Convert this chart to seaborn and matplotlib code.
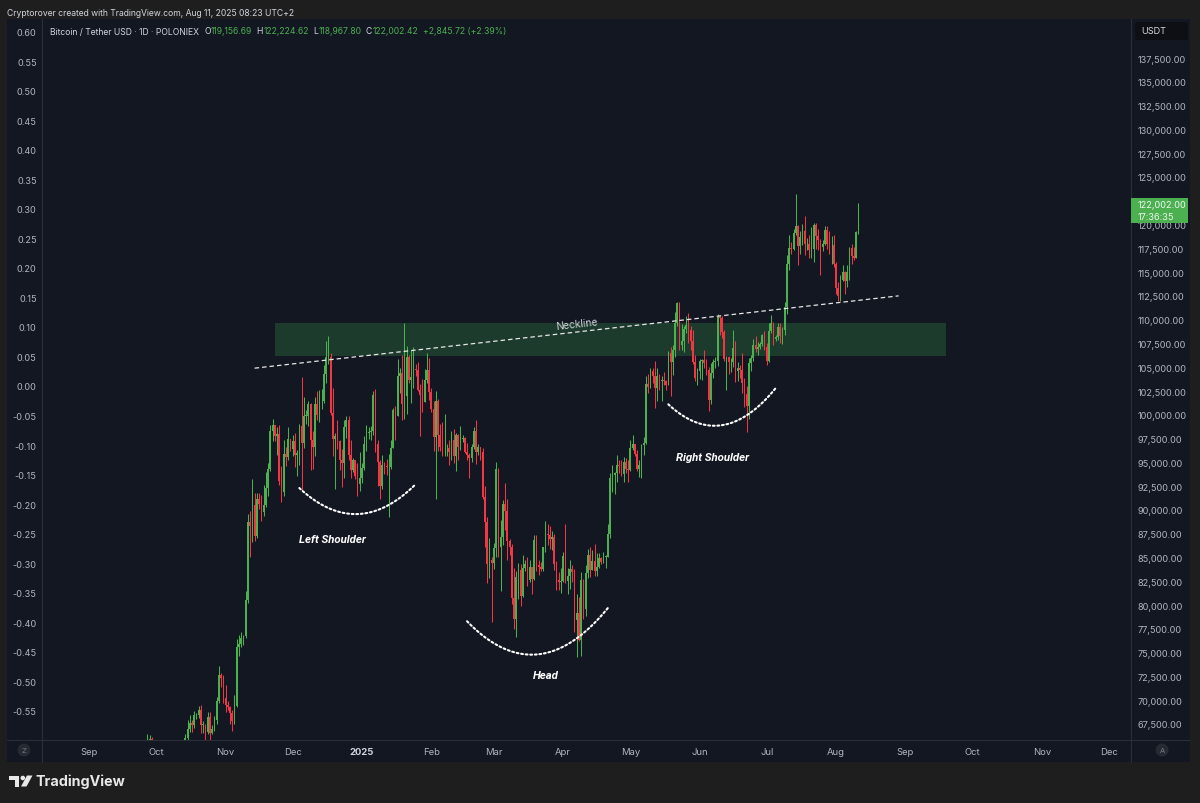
import numpy as np
import pandas as pd
import matplotlib
matplotlib.use("Agg")
import matplotlib.pyplot as plt
import matplotlib.dates as mdates
from matplotlib.patches import Rectangle, Polygon, FancyBboxPatch, Ellipse
from matplotlib.lines import Line2D
from matplotlib.ticker import FuncFormatter
import seaborn as sns

# ---- data: BTC/USDT daily candles (thousands of USDT) ----
start_date = "2024-09-24"
first_open = 63.3

close_k = [
    # Sep 24-30
    64.3, 63.1, 65.2, 65.8, 65.9, 65.6, 63.3,
    # Oct
    60.8, 60.6, 60.7, 62.1, 62.1, 62.8, 62.2, 62.1, 60.6, 60.3, 62.4, 63.2, 62.9, 66.0, 67.0, 67.6,
    67.4, 68.4, 68.4, 69.0, 67.4, 67.4, 66.7, 68.2, 66.6, 67.0, 67.9, 69.9, 72.7, 72.3, 70.2,
    # Nov
    69.5, 69.3, 68.7, 67.8, 69.4, 75.6, 75.9, 76.5, 76.7, 80.5, 88.7, 88.3, 90.5, 87.3, 91.1,
    90.6, 89.8, 90.5, 92.3, 94.3, 98.3, 98.9, 97.8, 98.0, 93.0, 91.9, 95.9, 95.6, 97.5, 96.4,
    # Dec
    97.2, 95.8, 96.0, 98.8, 97.0, 99.9, 99.9, 101.1, 97.4, 96.6, 101.1, 100.0, 101.4, 101.4, 104.3,
    106.1, 106.1, 100.2, 97.5, 97.8, 97.2, 95.2, 94.9, 98.7, 99.4, 95.8, 94.2, 95.2, 93.6, 92.7, 93.4,
    # Jan
    94.4, 96.9, 98.1, 98.2, 98.3, 102.1, 96.9, 95.0, 92.5, 94.7, 94.6, 94.5, 94.5, 96.5, 100.5,
    99.9, 104.1, 104.4, 101.1, 102.0, 106.1, 103.7, 104.0, 104.8, 104.7, 102.6, 102.1, 101.3, 103.7, 104.7, 102.4,
    # Feb
    100.6, 97.7, 101.4, 97.9, 96.6, 96.5, 96.5, 96.5, 96.1, 97.4, 95.7, 97.9, 96.6, 97.5,
    97.6, 96.1, 95.8, 95.5, 96.6, 98.3, 96.1, 96.6, 96.1, 91.4, 88.7, 84.3, 84.7, 84.4,
    # Mar
    86.0, 94.3, 86.1, 87.2, 90.6, 89.9, 86.7, 86.1, 80.7, 78.5, 82.9, 83.7, 81.0, 83.9, 84.3,
    82.6, 84.0, 82.7, 86.8, 84.2, 84.0, 83.8, 86.1, 87.5, 87.4, 86.9, 87.2, 84.3, 82.6, 82.4, 82.5,
    # Apr
    85.2, 82.5, 83.1, 83.8, 83.5, 78.4, 79.2, 76.3, 82.6, 79.6, 83.4, 85.3, 83.7, 84.6, 83.6,
    84.0, 84.9, 84.5, 85.1, 85.1, 87.5, 93.4, 93.7, 93.9, 94.7, 94.6, 93.8, 95.0, 94.3, 94.2,
    # May
    96.5, 96.9, 95.9, 94.3, 94.7, 96.8, 97.0, 103.2, 102.9, 104.6, 104.1, 102.8, 104.1, 103.5, 103.7,
    103.5, 103.1, 106.5, 105.6, 106.8, 109.7, 111.7, 107.3, 107.8, 109.0, 109.4, 108.9, 107.8, 105.6, 103.9, 104.6,
    # Jun
    105.7, 105.8, 105.4, 104.7, 101.6, 104.4, 105.6, 105.7, 110.3, 110.2, 108.7, 105.9, 106.1, 105.5, 105.6,
    107.0, 104.6, 104.9, 104.7, 103.3, 102.2, 100.9, 105.4, 106.0, 107.3, 106.9, 107.1, 107.4, 108.4, 107.1,
    # Jul
    105.7, 108.8, 109.6, 108.0, 108.2, 109.2, 108.3, 108.9, 111.3, 115.9, 117.5, 117.4, 119.1, 119.8, 117.7,
    118.7, 119.3, 117.9, 117.9, 117.3, 117.4, 120.0, 118.8, 118.4, 117.6, 117.9, 119.4, 118.0, 117.8, 117.8, 115.8,
    # Aug 1-11
    113.3, 112.5, 114.2, 115.0, 114.1, 115.0, 117.5, 116.7, 116.5, 119.2, 122.002,
]

high_k = [
    64.8, 64.8, 65.8, 66.5, 66.3, 66.1, 65.6,
    64.1, 62.4, 61.5, 62.5, 62.4, 63.0, 64.5, 63.2, 62.5, 61.3, 63.4, 63.5, 63.3, 66.5, 67.9, 68.4,
    67.9, 68.9, 68.7, 69.4, 69.5, 67.8, 67.5, 68.8, 68.8, 67.4, 68.3, 70.3, 73.6, 72.9, 72.7,
    71.6, 69.9, 69.4, 69.0, 70.5, 76.4, 76.9, 77.2, 76.9, 81.5, 89.6, 89.9, 93.3, 91.8, 91.8,
    91.8, 91.6, 92.6, 94.0, 94.9, 98.9, 99.6, 98.8, 98.7, 98.9, 94.6, 97.3, 96.6, 98.7, 97.5,
    97.9, 98.1, 96.3, 99.0, 104.0, 101.9, 100.5, 101.4, 101.2, 98.3, 101.9, 102.5, 102.6, 102.7, 105.2,
    107.8, 108.3, 106.5, 102.8, 98.1, 99.5, 97.3, 96.4, 99.4, 99.9, 99.9, 97.3, 95.5, 95.2, 94.9, 96.1,
    94.9, 97.8, 98.9, 98.7, 98.8, 102.5, 102.7, 97.3, 95.3, 95.8, 95.0, 95.4, 95.9, 97.4, 100.7,
    100.9, 105.9, 104.9, 106.3, 109.6, 107.2, 106.3, 106.8, 107.1, 105.3, 105.5, 103.2, 103.8, 104.8, 106.5, 106.0,
    102.8, 101.5, 102.5, 101.7, 99.0, 99.2, 100.1, 96.9, 97.3, 98.3, 98.5, 98.1, 98.0, 98.8,
    97.9, 97.7, 97.0, 96.0, 96.9, 98.7, 99.5, 96.9, 96.6, 96.5, 92.5, 89.3, 87.0, 85.1,
    86.5, 95.0, 94.4, 88.9, 91.0, 92.8, 91.2, 86.9, 86.4, 83.9, 83.6, 84.4, 84.3, 85.3, 84.7,
    85.0, 84.7, 83.9, 87.4, 87.4, 84.7, 84.5, 86.1, 88.8, 88.5, 88.3, 87.8, 87.5, 84.6, 83.5, 83.9,
    85.6, 88.5, 83.9, 84.7, 84.2, 83.8, 81.2, 80.8, 83.5, 82.7, 84.2, 85.9, 86.1, 85.8, 86.4,
    85.5, 85.5, 85.1, 85.6, 85.3, 88.5, 93.9, 94.7, 94.0, 95.8, 95.3, 95.2, 95.6, 95.5, 95.2,
    97.4, 97.9, 96.9, 96.3, 95.2, 96.9, 97.7, 104.1, 104.3, 104.9, 104.9, 105.7, 104.9, 104.3, 104.1,
    104.5, 103.7, 106.7, 107.1, 107.3, 110.8, 111.9, 111.9, 109.5, 109.3, 110.4, 110.7, 109.3, 108.9, 106.3, 104.9,
    105.9, 105.9, 106.8, 105.9, 105.0, 105.4, 105.9, 106.1, 110.6, 110.4, 110.4, 108.9, 106.2, 106.2, 106.0,
    108.9, 107.8, 105.6, 105.2, 106.5, 103.9, 103.0, 106.0, 106.3, 108.0, 108.3, 107.7, 107.6, 108.5, 108.8,
    107.5, 109.7, 110.5, 109.8, 108.4, 109.7, 109.7, 109.2, 111.9, 116.8, 118.9, 118.2, 119.5, 123.2, 119.9,
    119.3, 120.1, 120.9, 118.6, 118.9, 119.7, 120.2, 120.2, 119.5, 118.5, 118.4, 119.8, 119.8, 119.3, 118.8, 118.9,
    116.1, 114.0, 114.7, 115.7, 115.1, 115.7, 117.6, 117.9, 117.6, 119.3, 122.225,
]

low_k = [
    62.7, 62.9, 62.7, 64.8, 65.4, 65.4, 62.9,
    60.2, 59.9, 59.8, 60.5, 61.7, 61.9, 62.1, 61.8, 60.3, 58.9, 60.1, 62.4, 62.0, 62.4, 64.8, 66.7,
    66.7, 67.1, 68.0, 68.1, 66.6, 66.6, 65.3, 66.5, 65.5, 66.5, 66.8, 67.5, 69.7, 71.4, 69.7,
    68.8, 69.0, 67.5, 66.8, 67.5, 69.3, 74.6, 75.6, 75.8, 76.5, 80.2, 85.1, 86.6, 86.7, 87.1,
    90.1, 88.8, 89.4, 90.3, 91.5, 94.1, 97.2, 97.2, 95.8, 92.6, 90.8, 91.5, 94.6, 95.3, 96.2,
    95.7, 94.5, 93.6, 94.7, 92.1, 96.5, 99.0, 98.8, 94.2, 94.3, 95.7, 99.4, 99.2, 100.6, 101.2,
    103.3, 105.3, 100.0, 95.7, 92.2, 96.4, 94.2, 92.4, 93.4, 97.6, 95.2, 93.4, 94.0, 93.3, 91.5, 92.0,
    92.8, 94.2, 96.2, 97.5, 97.3, 97.9, 96.1, 92.5, 91.2, 92.2, 93.8, 93.7, 89.3, 94.3, 96.5,
    97.3, 99.9, 102.3, 99.5, 99.6, 100.1, 103.3, 101.2, 102.8, 104.1, 102.5, 97.8, 100.3, 101.3, 103.3, 101.6,
    100.3, 96.2, 91.2, 96.2, 96.2, 95.7, 95.7, 95.7, 94.7, 95.3, 94.9, 94.1, 95.2, 96.3,
    97.1, 96.0, 95.2, 93.4, 95.0, 96.4, 94.8, 95.8, 95.2, 91.2, 86.1, 82.3, 82.8, 78.2,
    83.8, 85.0, 85.1, 81.5, 86.3, 87.9, 84.7, 85.3, 80.1, 77.5, 76.6, 80.6, 79.9, 80.8, 83.6,
    82.0, 82.4, 81.2, 82.6, 83.6, 83.2, 83.6, 83.6, 85.6, 86.3, 85.9, 85.8, 83.7, 81.6, 81.6, 81.3,
    82.4, 82.3, 81.2, 81.7, 82.4, 77.2, 74.5, 76.2, 74.6, 78.5, 78.9, 82.8, 82.9, 83.7, 83.1,
    83.1, 83.9, 84.3, 84.4, 83.9, 85.1, 87.1, 91.9, 91.7, 92.9, 93.9, 93.6, 92.9, 93.9, 92.9,
    94.1, 96.3, 95.7, 94.1, 93.5, 93.4, 95.8, 96.9, 102.3, 102.8, 103.3, 100.7, 101.4, 102.6, 101.4,
    103.1, 102.6, 103.1, 102.0, 104.2, 106.1, 109.3, 106.8, 106.8, 106.6, 108.6, 107.5, 106.8, 105.3, 103.6, 103.1,
    103.8, 103.7, 104.9, 104.2, 100.4, 101.1, 103.9, 104.9, 105.1, 108.4, 108.1, 105.7, 102.6, 104.3, 104.5,
    105.0, 103.4, 103.6, 103.9, 102.3, 100.8, 98.2, 99.6, 104.6, 105.7, 106.6, 106.3, 106.9, 107.2, 106.8,
    105.2, 105.6, 108.6, 107.3, 107.8, 107.9, 107.5, 107.4, 108.4, 110.6, 115.2, 116.9, 117.3, 118.9, 115.7,
    116.9, 117.8, 116.8, 117.3, 116.5, 116.5, 116.1, 117.4, 117.3, 114.7, 117.2, 117.8, 117.4, 116.9, 115.8, 115.5,
    112.7, 112.0, 112.0, 114.1, 112.7, 113.4, 114.2, 115.9, 116.3, 116.5, 118.968,
]

# pattern annotations (date, price)
zone_dates = ["2024-11-23", "2025-09-19"]
zone_prices = [106_200, 109_700]
neck_dates = ["2024-11-14", "2025-08-29"]
neck_prices = [104_900, 112_500]
arcs = {
    "Left Shoulder": (["2024-12-04", "2025-01-01", "2025-01-25"], [92_300, 89_600, 92_700]),
    "Head": (["2025-02-17", "2025-03-23", "2025-04-21"], [78_300, 74_900, 79_700]),
    "Right Shoulder": (["2025-05-18", "2025-06-08", "2025-07-05"], [101_100, 98_850, 102_800]),
}
label_dates = ["2024-12-19", "2025-03-24", "2025-06-07"]
label_prices = [86_950, 72_600, 95_600]
label_texts = ["Left Shoulder", "Head", "Right Shoulder"]

month_ticks = ["2024-09-01", "2024-10-01", "2024-11-01", "2024-12-01", "2025-01-01", "2025-02-01",
               "2025-03-01", "2025-04-01", "2025-05-01", "2025-06-01", "2025-07-01", "2025-08-01",
               "2025-09-01", "2025-10-01", "2025-11-01", "2025-12-01"]
month_labels = ["Sep", "Oct", "Nov", "Dec", "2025", "Feb", "Mar", "Apr", "May", "Jun", "Jul", "Aug",
                "Sep", "Oct", "Nov", "Dec"]
price_ticks = list(range(67_500, 137_501, 2_500))
z_ticks = [round(v, 2) for v in np.arange(-0.55, 0.601, 0.05)]

# ---- style ----
W, H = 1200, 804
OUTER = "#1e1e1e"
PANEL = "#131722"
SEP = "#2a2e39"
TXT = "#b2b5be"
HEAD_TXT = "#d1d4dc"
GREEN = "#4caf50"
RED = "#f23645"

sns.set_theme(style="dark", rc={"axes.facecolor": PANEL, "figure.facecolor": OUTER,
                                "axes.grid": False, "axes.edgecolor": SEP})
plt.rcParams["font.family"] = ["Inter", "DejaVu Sans"]


def fx(x):
    return x / W


def fy(y):
    return 1 - y / H


fig = plt.figure(figsize=(12, 8.04), dpi=100)
fig.add_artist(Rectangle((fx(7), fy(763)), fx(1190) - fx(7), fy(20) - fy(763),
                         transform=fig.transFigure, facecolor=PANEL, edgecolor="none", zorder=-2))

ax = fig.add_axes([fx(42), fy(741), fx(1131) - fx(42), fy(20) - fy(741)])
ax.set_facecolor(PANEL)
ax2 = ax.twinx()

# ---- candles ----
dates = pd.date_range(start_date, periods=len(close_k), freq="D")
xs = mdates.date2num(dates)
c = np.array(close_k) * 1000
o = np.r_[first_open, close_k[:-1]] * 1000
o[-1] = 119_156.69
hi = np.maximum(np.array(high_k) * 1000, np.maximum(o, c))
lo = np.minimum(np.array(low_k) * 1000, np.minimum(o, c))
cols = np.where(c >= o, GREEN, RED)

ax.vlines(xs, lo, hi, colors=cols, linewidth=0.75, zorder=3)
ax.bar(xs, np.maximum(np.abs(c - o), 60), bottom=np.minimum(o, c), width=0.72,
       color=cols, linewidth=0, zorder=4)

# ---- pattern drawing ----
zd = mdates.date2num(pd.to_datetime(zone_dates))
ax.add_patch(Rectangle((zd[0], zone_prices[0]), zd[1] - zd[0], zone_prices[1] - zone_prices[0],
                       facecolor="#1d3b2c", edgecolor="none", zorder=1))

nd = mdates.date2num(pd.to_datetime(neck_dates))
ax.plot(nd, neck_prices, color="#e6e6e6", linewidth=0.9, linestyle=(0, (3.6, 2.4)), zorder=5)
nx = mdates.date2num(pd.Timestamp("2025-04-07"))
ax.text(nx, 109_250, "Neckline", color=HEAD_TXT, fontsize=7.4, ha="center", va="baseline",
        rotation=6.4, rotation_mode="anchor", zorder=6)

for name, (ad, ap) in arcs.items():
    ax_d = mdates.date2num(pd.to_datetime(ad))
    coef = np.polyfit(ax_d - ax_d[1], ap, 2)
    t = np.linspace(ax_d[0], ax_d[2], 120)
    ax.plot(t, np.polyval(coef, t - ax_d[1]), color="white", linewidth=1.5,
            linestyle=(0, (0.9, 1.3)), dash_capstyle="round", zorder=5)

for d, p, s in zip(label_dates, label_prices, label_texts):
    ax.text(mdates.date2num(pd.Timestamp(d)), p, s, color="white", fontsize=8.2,
            fontweight="bold", fontstyle="italic", family=["Roboto", "DejaVu Sans"],
            ha="center", va="center", zorder=6)

# ---- axes ----
ax.set_xlim(mdates.date2num(pd.Timestamp("2024-08-10 22:00")),
            mdates.date2num(pd.Timestamp("2025-12-10 22:00")))
ax.set_ylim(65_818, 141_600)
ax2.set_ylim(-0.5996, 0.6216)

ax.yaxis.tick_right()
ax.set_yticks(price_ticks)
ax.yaxis.set_major_formatter(FuncFormatter(lambda v, p: f"{v:,.2f}"))
ax.tick_params(axis="y", length=0, pad=5, labelsize=6.6, labelcolor=TXT)

ax2.yaxis.tick_left()
ax2.set_yticks(z_ticks)
ax2.yaxis.set_major_formatter(FuncFormatter(lambda v, p: f"{v:.2f}"))
ax2.tick_params(axis="y", length=0, pad=3.8, labelsize=6.6, labelcolor=TXT)

ax.set_xticks(mdates.date2num(pd.to_datetime(month_ticks)))
ax.set_xticklabels(month_labels)
ax.tick_params(axis="x", length=0, pad=5, labelsize=6.8, labelcolor=TXT)
for lab in ax.get_xticklabels():
    if lab.get_text() == "2025":
        lab.set_fontweight("bold")
        lab.set_color(HEAD_TXT)

for a in (ax, ax2):
    for s in a.spines.values():
        s.set_visible(False)
    a.set_xlabel("")
    a.set_ylabel("")

# separators
for (x0, y0, x1, y1) in [(7, 741, 1190, 741), (42, 20, 42, 763), (1131, 20, 1131, 763)]:
    fig.add_artist(Line2D([fx(x0), fx(x1)], [fy(y0), fy(y1)], transform=fig.transFigure,
                          color=SEP, linewidth=0.8, zorder=2))

# ---- header texts ----
fig.text(fx(7), fy(13), "Cryptorover created with TradingView.com, Aug 11, 2025 08:23 UTC+2",
         color=HEAD_TXT, fontsize=6.2, ha="left", va="center")

renderer = fig.canvas.get_renderer()
parts = [("Bitcoin / Tether USD \u00b7 1D \u00b7 POLONIEX", HEAD_TXT, 5),
         ("O", HEAD_TXT, 0.3), ("119,156.69", GREEN, 4.5),
         ("H", HEAD_TXT, 0.3), ("122,224.62", GREEN, 4.5),
         ("L", HEAD_TXT, 0.3), ("118,967.80", GREEN, 4.5),
         ("C", HEAD_TXT, 0.3), ("122,002.42", GREEN, 4.5),
         ("+2,845.72 (+2.39%)", GREEN, 0)]
xpos = 50
for s, col, gap in parts:
    t = fig.text(fx(xpos), fy(32), s, color=col, fontsize=6.2, ha="left", va="center")
    xpos += t.get_window_extent(renderer=renderer).width + gap

# USDT box
fig.add_artist(FancyBboxPatch((fx(1135), fy(41)), fx(1188) - fx(1135), fy(23) - fy(41),
                              boxstyle="round,pad=0,rounding_size=0.003", transform=fig.transFigure,
                              facecolor="#0d0f15", edgecolor="none", zorder=3))
fig.text(fx(1141), fy(32), "USDT", color=HEAD_TXT, fontsize=6.6, ha="left", va="center", zorder=4)

# last price label (covers the 122,500 tick as in the original)
fig.add_artist(Rectangle((fx(1131), fy(224)), fx(1188) - fx(1131), fy(199) - fy(224),
                         transform=fig.transFigure, facecolor=GREEN, edgecolor="none", zorder=3))
fig.text(fx(1138), fy(205.5), f"{c[-1]:,.2f}", color="#eef7ee", fontsize=6.6,
         ha="left", va="center", zorder=4)
fig.text(fx(1138), fy(217), "17:36:35", color="#eef7ee", fontsize=6.6,
         ha="left", va="center", zorder=4)

# corner buttons
for (x, s) in [(24, "Z"), (1162, "A")]:
    fig.text(fx(x), fy(751), s, color="#787b86", fontsize=5.5, ha="center", va="center",
             bbox=dict(boxstyle="circle,pad=0.45", facecolor="#262a33", edgecolor="none"), zorder=4)

# TradingView logo
logo = "#e8e8e8"
fig.add_artist(Polygon([(fx(8.5), fy(776.5)), (fx(19), fy(776.5)), (fx(19), fy(787.5)),
                        (fx(14.5), fy(787.5)), (fx(14.5), fy(781)), (fx(8.5), fy(781))],
                       closed=True, transform=fig.transFigure, facecolor=logo, edgecolor="none"))
fig.add_artist(Polygon([(fx(21), fy(787.5)), (fx(26.5), fy(787.5)), (fx(32.5), fy(776.5)),
                        (fx(27), fy(776.5))],
                       closed=True, transform=fig.transFigure, facecolor=logo, edgecolor="none"))
fig.add_artist(Ellipse((fx(22.8), fy(779)), 4.6 / W, 4.6 / H,
                       transform=fig.transFigure, facecolor=logo, edgecolor="none"))
fig.text(fx(35), fy(782), "TradingView", color=logo, fontsize=10.3, fontweight="bold",
         ha="left", va="center")

fig.savefig("out.png", dpi=100, facecolor=OUTER)
